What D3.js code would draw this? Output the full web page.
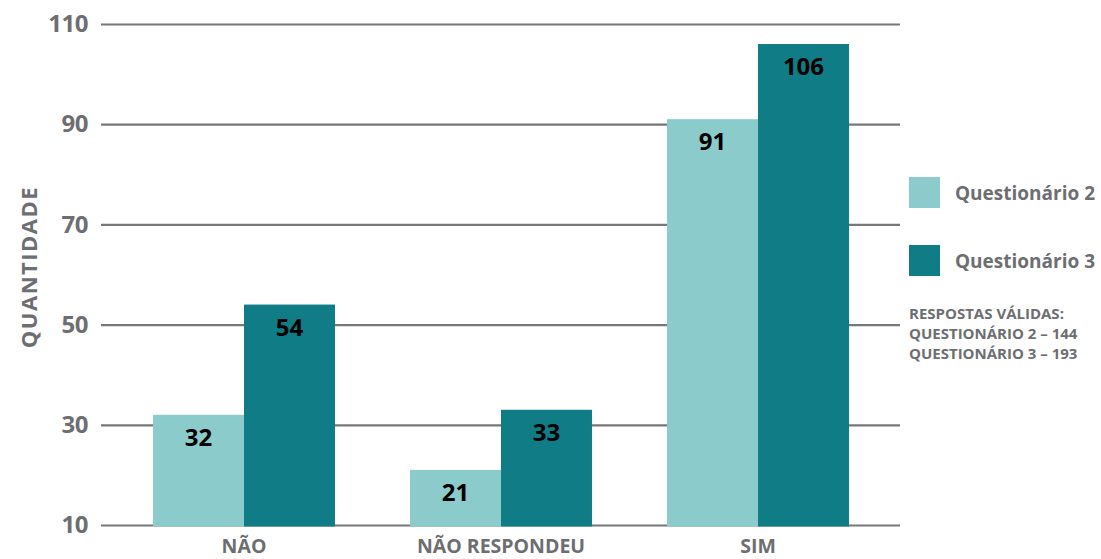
<!DOCTYPE html>
<html><head><meta charset="utf-8">
<script src="https://cdn.jsdelivr.net/npm/d3@7"></script>
<style>body{margin:0;background:#fff}svg{display:block}text{font-family:"Open Sans","Noto Sans",sans-serif;font-weight:700}</style>
</head><body><svg id="c" width="1101" height="559"></svg>
<script>
const categories = ["NÃO", "NÃO RESPONDEU", "SIM"];
const seriesNames = ["Questionário 2", "Questionário 3"];
const q2 = [32, 21, 91];
const q3 = [54, 33, 106];
const yTicks = [10, 30, 50, 70, 90, 110];
const notes = ["RESPOSTAS VÁLIDAS:", "QUESTIONÁRIO 2 – 144", "QUESTIONÁRIO 3 – 193"];
const colors = ["#8ccbcb", "#0f7c86"];
const gray = "#6d6e71";

const svg = d3.select("#c");
const y = d3.scaleLinear().domain([10, 110]).range([525, 24]);
const x = d3.scaleBand().domain(categories).range([115.5, 886.5]).paddingInner(0.292).paddingOuter(0.146);
const xs = d3.scaleBand().domain(seriesNames).range([0, x.bandwidth()]);

// gridlines + tick labels via axis
const ax = svg.append("g").attr("transform", "translate(101,0)")
  .call(d3.axisLeft(y).tickValues(yTicks).tickSize(-799).tickPadding(13).tickFormat(d3.format("d")));
ax.select(".domain").remove();
ax.selectAll(".tick line").attr("stroke", "#77777a").attr("stroke-width", 2.2);
ax.selectAll(".tick text").attr("fill", gray).attr("font-size", 24).attr("font-family", '"Open Sans",sans-serif').attr("font-weight", 700).attr("letter-spacing", -0.5);

// bars
const data = categories.map((c, i) => ({c, vals: [q2[i], q3[i]]}));
const g = svg.append("g");
data.forEach(d => {
  d.vals.forEach((v, j) => {
    const bx = x(d.c) + xs(seriesNames[j]);
    g.append("rect").attr("x", bx).attr("y", y(v)).attr("width", xs.bandwidth()).attr("height", y(10) - y(v) + 1.5).attr("fill", colors[j]);
    g.append("text").attr("x", bx + xs.bandwidth() / 2).attr("y", y(v) + 31).attr("text-anchor", "middle")
      .attr("font-size", 24).attr("fill", "#000").text(v);
  });
});

// x labels
svg.append("g").selectAll("text").data(categories).join("text")
  .attr("x", d => x(d) + x.bandwidth() / 2).attr("y", 553).attr("text-anchor", "middle")
  .attr("font-size", 19.5).attr("fill", gray).text(d => d);

// y title
svg.append("text").attr("transform", "translate(37,267) rotate(-90)").attr("text-anchor", "middle")
  .attr("font-size", 22).attr("letter-spacing", 1.5).attr("fill", gray).text("QUANTIDADE");

// legend
const lg = svg.append("g");
seriesNames.forEach((s, i) => {
  lg.append("rect").attr("x", 909).attr("y", 177 + i * 68).attr("width", 31).attr("height", 31).attr("fill", colors[i]);
  lg.append("text").attr("x", 955).attr("y", 200 + i * 68).attr("font-size", 19).attr("fill", gray).text(s);
});
notes.forEach((t, i) => {
  lg.append("text").attr("x", 909).attr("y", 319 + i * 20).attr("font-size", 15).attr("fill", gray).text(t);
});
</script></body></html>
